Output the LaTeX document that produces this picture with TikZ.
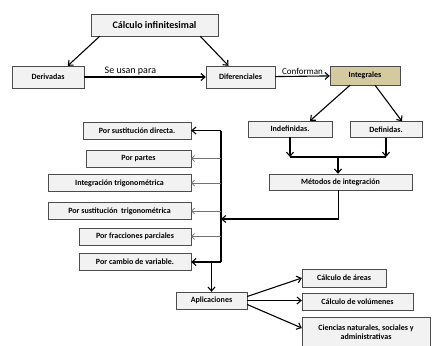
\documentclass[tikz,border=0pt]{standalone}
\usepackage{fontspec}
\setmainfont{Carlito}
\usetikzlibrary{arrows.meta,shadows}
\definecolor{boxfill}{RGB}{242,242,242}
\definecolor{tanfill}{RGB}{212,202,160}

\begin{document}
\begin{tikzpicture}[x=1pt,y=-1pt,
    box/.style={draw=black!70, fill=boxfill, inner sep=1pt, minimum height=17,
      font=\fontsize{8}{9.5}\selectfont\bfseries,
      drop shadow={shadow xshift=0.8pt, shadow yshift=-0.8pt, opacity=0.35}},
    arr/.style={-{Straight Barb[length=4pt,width=7pt]}, line width=1.1pt},
    thinarr/.style={-{Straight Barb[length=3pt,width=6pt]}, draw=black!55, line width=0.6pt},
    lbl/.style={font=\fontsize{10}{11}\selectfont, inner sep=1.5pt}]
    \useasboundingbox (0,0) rectangle (433,345);
    % top row
    \node[box, minimum width=127, minimum height=22, font=\fontsize{10}{12}\selectfont\bfseries] (calc) at (154.5,25) {Cálculo infinitesimal};
    \node[box, minimum width=72, minimum height=22] (der) at (48,77) {Derivadas};
    \node[box, minimum width=69, minimum height=22] (dif) at (240.5,77) {Diferenciales};
    \node[box, fill=tanfill, minimum width=70, minimum height=19] (int) at (365,75.5) {Integrales};
    \draw[arr] ([xshift=9pt]calc.south west) -- ([xshift=56pt]der.north west);
    \draw[arr] ([xshift=-18pt]calc.south east) -- ([xshift=-12pt]dif.north);
    \draw[arr] (der) -- node[lbl, above, pos=0.38]{Se usan para} (dif);
    \draw[arr] (dif) -- node[lbl, above, font=\fontsize{9}{10}\selectfont]{Conforman} (int);
    % integrales
    \node[box, minimum width=84, minimum height=16] (indef) at (290,129) {Indefinidas.};
    \node[box, minimum width=72, minimum height=16] (def) at (386,129.5) {Definidas.};
    \node[box, minimum width=143, minimum height=16] (met) at (340.5,182) {Métodos de integración};
    \draw[arr] ([xshift=-15pt]int.south) -- ([xshift=20pt]indef.north);
    \draw[arr] ([xshift=10pt]int.south) -- ([xshift=16pt]def.north);
    \coordinate (join) at (338,157);
    \draw[line width=1.1pt] (indef.south |- join) -- (def.south |- join);
    \draw[arr] (indef.south) -- (indef.south |- join);
    \draw[arr] (def.south) -- (def.south |- join);
    \draw[arr] (join) -- (join |- met.north);
    % metodos
    \node[box, minimum width=108] (s1) at (137,130.5) {Por sustitución directa.};
    \node[box, minimum width=105] (s2) at (138.5,158.5) {Por partes};
    \node[box, minimum width=143] (s3) at (119.5,183) {Integración trigonométrica};
    \node[box, minimum width=143] (s4) at (119.5,211) {Por sustitución\ \ trigonométrica};
    \node[box, minimum width=112] (s5) at (135,236.5) {Por fracciones parciales};
    \node[box, minimum width=112] (s6) at (135,262) {Por cambio de variable.};
    \coordinate (ttop) at (221,130.5);
    \coordinate (tbot) at (221,262);
    \draw[line width=1.1pt] (ttop) -- (tbot);
    \draw[arr] ([xshift=-2pt]met.south) |- (221,219);
    \draw[arr] (ttop) -- (s1.east);
    \foreach \s in {s2,s3,s4,s5}
        \draw[thinarr] (\s.east -| ttop) -- (\s.east);
    \draw[arr] (tbot) -- (s6.east);
    % aplicaciones
    \node[box, minimum width=71] (apl) at (211.5,300.5) {Aplicaciones};
    \node[box, minimum width=84, minimum height=18] (a1) at (344,278) {Cálculo de áreas};
    \node[box, minimum width=111] (a2) at (357.5,302) {Cálculo de volúmenes};
    \node[box, minimum width=128, minimum height=30, align=center] (a3) at (366,332) {Ciencias naturales, sociales y\\administrativas};
    \draw[arr] (apl.north |- tbot) -- (apl.north);
    \draw[arr] ([yshift=4pt]apl.east) -- (a1.west);
    \draw[arr] (apl.east) -- (apl.east -| a2.west);
    \draw[arr] ([yshift=-4pt]apl.east) -- ([yshift=4pt]a3.west);
\end{tikzpicture}
\end{document}
